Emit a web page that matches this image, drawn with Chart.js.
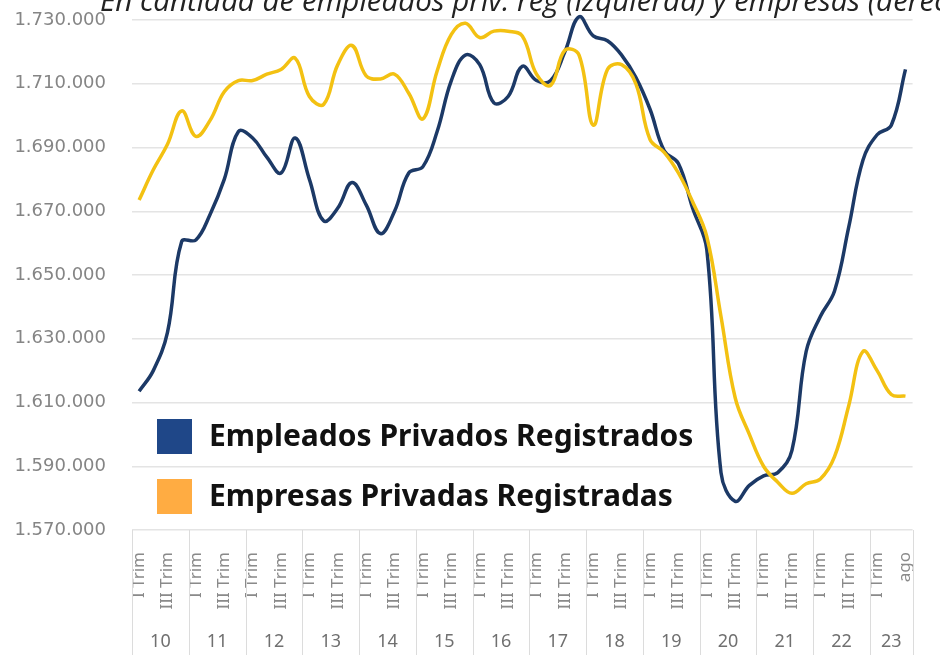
<!DOCTYPE html>
<html>
<head>
<meta charset="utf-8">
<script src="https://cdn.jsdelivr.net/npm/chart.js@4/dist/chart.umd.min.js"></script>
<style>
  html, body { margin: 0; padding: 0; background: #fff; }
  #wrap { width: 940px; height: 655px; position: relative; }
</style>
</head>
<body>
<div id="wrap"><canvas id="empleoChart"></canvas></div>
<script>
// values in thousands (empresas drawn on left-axis equivalent)
const years = ["10", "11", "12", "13", "14", "15", "16", "17", "18", "19", "20", "21", "22", "23"];
const quarters = ["I Trim", "II Trim", "III Trim", "IV Trim"];
const lastYearLabels = ["I Trim", "II Trim", "ago"];
const shownTicks = ["I Trim", "III Trim", "ago"];

const empleados = [1613.5, 1620, 1632, 1660.5, 1661, 1669, 1680, 1695, 1693, 1687, 1682, 1693, 1680, 1667,
  1671, 1679, 1672, 1663, 1670, 1682, 1684, 1695, 1711, 1719, 1716, 1704, 1706, 1715.5, 1711, 1711,
  1720, 1731, 1725, 1723.5, 1719, 1712, 1702, 1689, 1685, 1671, 1658, 1588, 1579, 1584, 1587, 1588,
  1595, 1626, 1637, 1645, 1665, 1686, 1694, 1697, 1714.5];
const empresas = [1673.5, 1683, 1691, 1701.5, 1693.5, 1698.5, 1707.5, 1711, 1711, 1713, 1714.5, 1718, 1706, 1703.5,
  1716, 1722, 1712.5, 1711.5, 1713, 1707, 1699, 1714, 1725.5, 1729, 1724.5, 1726.5, 1726.5, 1725, 1713, 1709.5,
  1720.5, 1719, 1697, 1714.5, 1716, 1710, 1692.5, 1688.5, 1682, 1673, 1662, 1637, 1611.5, 1600, 1590,
  1585, 1581.5, 1584.5, 1586, 1593, 1609, 1626, 1620, 1612.5, 1612];

const yMin = 1570000, yMax = 1730000, yStep = 20000;

const titleText = "En cantidad de empleados priv. reg (izquierda) y empresas (derecha)";
const legendItems = [
  { text: "Empleados Privados Registrados", color: "#1f4788" },
  { text: "Empresas Privadas Registradas", color: "#ffac42" }
];

// category labels + the year each one belongs to
const labels = [];
const labelYear = [];
years.forEach((y, k) => {
  const q = k === years.length - 1 ? lastYearLabels : quarters;
  q.forEach(l => { labels.push(l); labelYear.push(y); });
});

function fmtMiles(v) {
  return String(Math.round(v)).replace(/\B(?=(\d{3})+(?!\d))/g, ".");
}

Chart.defaults.font.family = "'Noto Sans', sans-serif";

const extras = {
  id: "extras",
  afterDraw(chart) {
    const ctx = chart.ctx;
    const xs = chart.scales.x;
    const area = chart.chartArea;
    const H = chart.height;
    const w = (area.right - area.left) / labels.length;
    ctx.save();

    // year separators and year labels under the axis
    ctx.strokeStyle = "#dcdcdc";
    ctx.lineWidth = 1;
    let start = 0;
    years.forEach((y, k) => {
      const n = labelYear.filter(v => v === y).length;
      const x0 = xs.getPixelForValue(start) - w / 2;
      const x1 = xs.getPixelForValue(start + n - 1) + w / 2;
      ctx.beginPath();
      ctx.moveTo(Math.round(x0) + 0.5, area.bottom);
      ctx.lineTo(Math.round(x0) + 0.5, H);
      ctx.stroke();
      if (k === years.length - 1) {
        ctx.beginPath();
        ctx.moveTo(Math.round(x1) + 0.5, area.bottom);
        ctx.lineTo(Math.round(x1) + 0.5, H);
        ctx.stroke();
      }
      ctx.fillStyle = "#707070";
      ctx.font = "18px 'Noto Sans'";
      ctx.textAlign = "center";
      ctx.textBaseline = "middle";
      ctx.fillText(y, (x0 + x1) / 2, 642);
      start += n;
    });

    // title, cut at the top like the original
    ctx.fillStyle = "#222";
    ctx.font = "italic 29.5px 'Open Sans'";
    ctx.textAlign = "left";
    ctx.textBaseline = "alphabetic";
    ctx.fillText(titleText, 100, 11);

    // legend inside the plot
    legendItems.forEach((it, i) => {
      const top = 419 + i * 60;
      ctx.fillStyle = it.color;
      ctx.fillRect(157, top, 35, 35);
      ctx.fillStyle = "#111";
      ctx.font = "bold 30px 'Noto Sans'";
      ctx.textBaseline = "middle";
      ctx.fillText(it.text, 209, top + 18);
    });
    ctx.restore();
  }
};

const ctx = document.getElementById("empleoChart").getContext("2d");

new Chart(ctx, {
  type: "line",
  data: {
    labels: labels,
    datasets: [
      {
        label: "Empresas Privadas Registradas",
        data: empresas.map(v => v * 1000),
        yAxisID: "y1",
        borderColor: "#f3c112",
        borderWidth: 3.5,
        pointRadius: 0,
        tension: 0.4,
        clip: 10,
        order: 0
      },
      {
        label: "Empleados Privados Registrados",
        data: empleados.map(v => v * 1000),
        yAxisID: "y",
        borderColor: "#1c3966",
        borderWidth: 3.5,
        pointRadius: 0,
        tension: 0.4,
        clip: 10,
        order: 1
      }
    ]
  },
  options: {
    responsive: true,
    maintainAspectRatio: false,
    animation: false,
    layout: { padding: { top: 20, right: 12, left: 0, bottom: 0 } },
    plugins: {
      legend: { display: false },
      title: { display: false },
      tooltip: { enabled: false }
    },
    scales: {
      x: {
        offset: true,
        grid: { display: false },
        border: { display: false },
        ticks: {
          autoSkip: false,
          minRotation: 90,
          maxRotation: 90,
          padding: 14,
          color: "#8a8a8a",
          font: { size: 17 },
          callback: function (value, index) {
            return shownTicks.includes(labels[index]) ? labels[index] : "";
          }
        },
        afterFit: s => { s.height = 125; }
      },
      y: {
        min: yMin,
        max: yMax,
        ticks: {
          stepSize: yStep,
          padding: 2,
          color: "#858585",
          font: { family: "'DejaVu Sans', sans-serif", size: 18 },
          callback: v => fmtMiles(v)
        },
        grid: { color: "#e4e4e4", lineWidth: 1.5, drawTicks: true, tickLength: 24, tickColor: "rgba(0,0,0,0)" },
        border: { display: false },
        afterFit: s => { s.width = 132; }
      },
      y1: {
        display: false,
        min: yMin,
        max: yMax
      }
    }
  },
  plugins: [extras]
});
</script>
</body>
</html>
